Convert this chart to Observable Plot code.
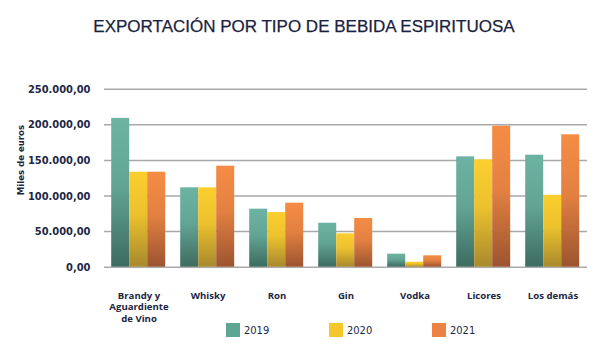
<!DOCTYPE html>
<html>
<head>
<meta charset="utf-8">
<script src="https://cdn.jsdelivr.net/npm/d3@7"></script>
<script src="https://cdn.jsdelivr.net/npm/@observablehq/plot@0.6"></script>
<style>
  body { margin: 0; background: #fff; width: 600px; height: 362px; overflow: hidden; }
  #title { height: 50px; box-sizing: border-box; padding-top: 17px; line-height: 17px; font: 17px "Liberation Sans", Arial, sans-serif; color: #19223d; text-align: center; padding-left: 8px; -webkit-text-stroke: 0.25px #19223d; }
  #chart svg { display: block; }
  #legend { margin-left: 226px; padding-top: 3px; }
  .lg-swatches { margin: 0 !important; min-height: 14px !important; }
  .lg-swatch { margin: 0 !important; width: 103px; font: 11px "Liberation Sans Narrow", "DejaVu Sans Condensed", sans-serif; color: #1d2744; }
  .lg-swatch svg { margin-right: 4px !important; }
</style>
</head>
<body>
<div id="title">EXPORTACIÓN POR TIPO DE BEBIDA ESPIRITUOSA</div>
<div id="chart"></div>
<div id="legend"></div>
<script>
const categories = ["Brandy y Aguardiente de Vino", "Whisky", "Ron", "Gin", "Vodka", "Licores", "Los demás"];
const years = ["2019", "2020", "2021"];
const values2019 = [209000, 111500, 81500, 61800, 18300, 155000, 157300];
const values2020 = [133400, 111500, 76800, 46900, 7000, 150800, 101000];
const values2021 = [133400, 141900, 89900, 68400, 16000, 198000, 186000];
const yTicks = [0, 50000, 100000, 150000, 200000, 250000];
const yLabel = "Miles de euros";

const topColors = ["#6cb3a2", "#fccf2e", "#f58c45"];
const bottomColors = ["#3d6b60", "#a8892d", "#9c5430"];
const legendColors = ["#5fa594", "#f5c72c", "#ec8342"];

const seriesByYear = [values2019, values2020, values2021];
const data = [];
categories.forEach((c, i) => {
  years.forEach((y, j) => data.push({category: c, year: y, value: seriesByYear[j][i]}));
});

const labelLines = {"Brandy y Aguardiente de Vino": "Brandy y\nAguardiente\nde Vino"};
const esLocale = d3.formatLocale({decimal: ",", thousands: ".", grouping: [3], currency: ["", "€"]});
const fmt = esLocale.format(",.2f");

const narrow = '"Liberation Sans Narrow", "DejaVu Sans Condensed", sans-serif';

const chart = Plot.plot({
  width: 600,
  height: 270,
  marginTop: 38.7,
  marginBottom: 53.3,
  marginLeft: 103.8,
  marginRight: 12.8,
  style: {background: "#fff", overflow: "visible"},
  fx: {domain: categories, paddingInner: 0, paddingOuter: 0},
  x: {domain: years, paddingInner: 0, paddingOuter: 0.324, axis: null},
  y: {domain: [0, 250000]},
  color: {domain: years, range: years.map(y => `url(#grad${y})`)},
  marks: [
    Plot.ruleY(yTicks, {stroke: "#a9a9a9", strokeWidth: 1.5}),
    Plot.barY(data, {fx: "category", x: "year", y: "value", fill: "year"}),
    Plot.axisY({
      ticks: yTicks, tickFormat: fmt, tickSize: 0, tickPadding: 14,
      fontFamily: narrow, fontSize: 11, fontWeight: "bold", fill: "#1d2744",
      label: null
    }),
    Plot.axisFx({
      anchor: "bottom", tickSize: 0, tickPadding: 23, label: null,
      tickFormat: d => labelLines[d] || d, lineHeight: 1.22,
      fontFamily: '"Open Sans", sans-serif', fontSize: 9.6, fontWeight: "bold", fill: "#1c2541"
    }),
    Plot.text([yLabel], {
      facet: "super", frameAnchor: "left", rotate: -90, dx: -84, dy: 17,
      fontFamily: narrow, fontSize: 9.5, fontWeight: "bold", fill: "#1d2744"
    })
  ]
});

const defs = d3.select(chart).insert("defs", ":first-child");
years.forEach((y, j) => {
  const g = defs.append("linearGradient").attr("id", `grad${y}`).attr("x1", 0).attr("y1", 0).attr("x2", 0).attr("y2", 1);
  g.append("stop").attr("offset", "0%").attr("stop-color", topColors[j]);
  g.append("stop").attr("offset", "45%").attr("stop-color", d3.interpolateRgb(topColors[j], bottomColors[j])(0.2));
  g.append("stop").attr("offset", "100%").attr("stop-color", bottomColors[j]);
});
document.getElementById("chart").appendChild(chart);

const legend = Plot.legend({
  color: {domain: years, range: legendColors},
  legend: "swatches", swatchSize: 14, className: "lg"
});
document.getElementById("legend").appendChild(legend);
</script>
</body>
</html>
